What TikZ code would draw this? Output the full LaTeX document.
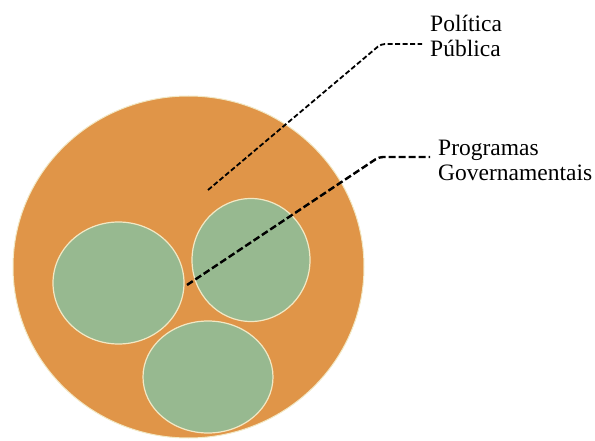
\documentclass[tikz,border=0pt]{standalone}
\usepackage{fontspec}
\setmainfont{Liberation Serif}
\usetikzlibrary{shapes}
\usetikzlibrary{backgrounds}
\usetikzlibrary{positioning}
\definecolor{orng}{RGB}{224,149,72}
\definecolor{sage}{RGB}{151,185,144}
\definecolor{cream}{RGB}{242,232,196}

\begin{document}
\begin{tikzpicture}[x=1pt, y=-1pt,
    whole/.style={ellipse, fill=orng, draw=cream, line width=1pt, inner sep=0pt},
    prog/.style={ellipse, fill=sage, draw=cream, line width=1.2pt, inner sep=0pt},
    lead/.style={draw=black, rounded corners=4pt},
    txt/.style={align=left, inner xsep=4pt, inner ysep=0pt, text=black,
                font=\fontsize{23.5}{25}\selectfont}]
      \useasboundingbox (0,0) rectangle (595,441);

      \node[whole, minimum width=351pt, minimum height=342pt] (pol) at (188.5,267) {};
      \node[prog, minimum width=131pt, minimum height=122pt]  (prog_a) at (118.5,283) {};
      \node[prog, minimum width=118pt, minimum height=123pt]  (prog_b) at (251,260) {};
      \node[prog, minimum width=130pt, minimum height=112pt]  (prog_c) at (208,377) {};

      \node[txt, anchor=west] (name_pol)  at (426,36)  {Política\\Pública};
      \node[txt, anchor=west] (name_prog) at (434,160) {Programas\\Governamentais};

      \coordinate (in_pol)    at (208,190);
      \coordinate (knee_pol)  at (381,44);
      \coordinate (in_prog)   at (187,285);
      \coordinate (knee_prog) at (379,157);

      \draw[lead, line width=1.8pt, dash pattern=on 5pt off 2.5pt, shorten >=4pt]
            (in_pol) -- (knee_pol) -- (knee_pol -| name_pol.west);
      \draw[lead, line width=2.4pt, dash pattern=on 7pt off 3pt, shorten >=4pt]
            (in_prog) -- (knee_prog) -- (knee_prog -| name_prog.west);
    \end{tikzpicture}
\end{document}
